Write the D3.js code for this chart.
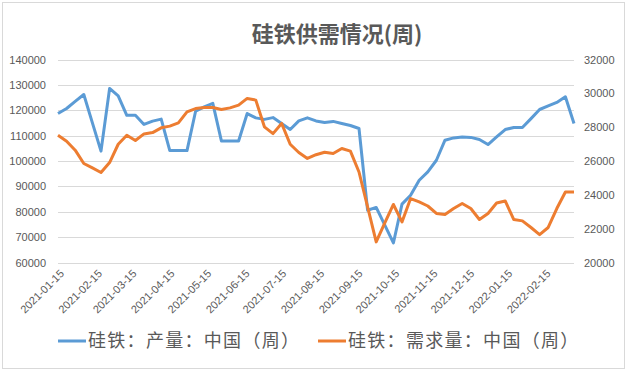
<!DOCTYPE html>
<html>
  <head>
    <meta charset="utf-8">
    <title>硅铁供需情况(周)</title>
    <style>
      body { margin: 0; background: #fff; }
      .grid line { stroke: #d9d9d9; stroke-width: 1; }
      .tick-label { fill: #595959; font-family: "Liberation Sans", Arial, sans-serif; font-size: 11px; }
      .title { fill: #595959; font-family: "Noto Sans CJK SC", sans-serif; font-size: 22px; font-weight: bold; }
      .legend-text { fill: #595959; font-family: "Noto Sans CJK SC", sans-serif; font-size: 18px; letter-spacing: 1.3px; }
    </style>
  </head>
  <body>
    <div class="container"></div>
    <script src="https://cdn.jsdelivr.net/npm/d3@7/dist/d3.min.js"></script>
    <script>
    var width = 627;
    var height = 371;

    // weekly dates
    var dates = [
      "2021-01-15","2021-01-22","2021-01-29","2021-02-05","2021-02-12","2021-02-19","2021-02-26",
      "2021-03-05","2021-03-12","2021-03-19","2021-03-26","2021-04-02","2021-04-09","2021-04-16",
      "2021-04-23","2021-04-30","2021-05-07","2021-05-14","2021-05-21","2021-05-28","2021-06-04",
      "2021-06-11","2021-06-18","2021-06-25","2021-07-02","2021-07-09","2021-07-16","2021-07-23",
      "2021-07-30","2021-08-06","2021-08-13","2021-08-20","2021-08-27","2021-09-03","2021-09-10",
      "2021-09-17","2021-09-24","2021-10-01","2021-10-08","2021-10-15","2021-10-22","2021-10-29",
      "2021-11-05","2021-11-12","2021-11-19","2021-11-26","2021-12-03","2021-12-10","2021-12-17",
      "2021-12-24","2021-12-31","2022-01-07","2022-01-14","2022-01-21","2022-01-28","2022-02-04",
      "2022-02-11","2022-02-18","2022-02-25","2022-03-04","2022-03-11"
    ];

    // 硅铁：产量（左轴）
    var production = [
      118700,120700,123500,126200,115000,103900,128600,125700,118000,118000,114400,115700,116500,
      104100,104100,104100,119600,121300,122700,107900,107900,107900,118700,117000,116400,117100,
      114800,112400,115800,117000,115800,115200,115600,114800,114000,112800,80600,81700,74700,
      67700,83000,86500,92400,95700,100300,108200,109100,109500,109300,108500,106500,109500,
      112400,113200,113200,116700,120300,121700,123100,125300,114800
    ];

    // 硅铁：需求量（右轴）
    var demand = [
      27520,27170,26640,25850,25590,25320,25910,26990,27520,27210,27600,27680,27960,28060,28250,
      28900,29100,29160,29160,29040,29140,29300,29700,29600,28020,27620,28220,26990,26500,26150,
      26370,26520,26440,26740,26580,25350,23290,21220,22340,23430,22400,23780,23580,23340,22900,
      22840,23190,23490,23190,22540,22900,23520,23640,22540,22460,22070,21650,22070,23190,24170,
      24170
    ];

    var xTickLabels = [
      "2021-01-15","2021-02-15","2021-03-15","2021-04-15","2021-05-15","2021-06-15","2021-07-15",
      "2021-08-15","2021-09-15","2021-10-15","2021-11-15","2021-12-15","2022-01-15","2022-02-15"
    ];
    var leftTicks = [60000,70000,80000,90000,100000,110000,120000,130000,140000];
    var rightTicks = [20000,22000,24000,26000,28000,30000,32000];
    var seriesNames = ["硅铁：产量：中国（周）", "硅铁：需求量：中国（周）"];
    var seriesColors = ["#5b9bd5", "#ed7d31"];

    var padding = { left: 58, right: 53, top: 59.5, bottom: 108.5 };

    var parse = d3.timeParse("%Y-%m-%d");

    var svg = d3.select(".container")
        .append("svg")
        .attr("width", width)
        .attr("height", height);

    // 外框
    svg.append("rect")
        .attr("x", 2.5).attr("y", 2.5)
        .attr("width", 622).attr("height", 366)
        .attr("fill", "#fff")
        .attr("stroke", "#d9d9d9");

    var x = d3.scaleTime()
        .domain([parse(dates[0]), parse(dates[dates.length - 1])])
        .range([padding.left, width - padding.right]);

    var yL = d3.scaleLinear()
        .domain([60000, 140000])
        .range([height - padding.bottom, padding.top]);

    var yR = d3.scaleLinear()
        .domain([20000, 32000])
        .range([height - padding.bottom, padding.top]);

    // 网格线
    svg.append("g").attr("class", "grid")
        .selectAll("line")
        .data(leftTicks)
        .enter()
        .append("line")
        .attr("x1", padding.left)
        .attr("x2", width - padding.right)
        .attr("y1", function(d) { return Math.round(yL(d)) + 0.5; })
        .attr("y2", function(d) { return Math.round(yL(d)) + 0.5; });

    // 左轴
    var leftAxis = svg.append("g")
        .attr("transform", "translate(" + (padding.left - 12) + ",0)")
        .call(d3.axisLeft(yL).tickValues(leftTicks).tickSize(0).tickPadding(0).tickFormat(d3.format("d")));
    leftAxis.select(".domain").remove();
    leftAxis.selectAll("text").attr("class", "tick-label").attr("font-family", null).attr("font-size", null);

    // 右轴
    var rightAxis = svg.append("g")
        .attr("transform", "translate(" + (width - padding.right + 10) + ",0)")
        .call(d3.axisRight(yR).tickValues(rightTicks).tickSize(0).tickPadding(0).tickFormat(d3.format("d")));
    rightAxis.select(".domain").remove();
    rightAxis.selectAll("text").attr("class", "tick-label").attr("font-family", null).attr("font-size", null);

    // x 轴标签（斜45度）
    svg.append("g")
        .selectAll("text")
        .data(xTickLabels)
        .enter()
        .append("text")
        .attr("class", "tick-label")
        .attr("text-anchor", "end")
        .attr("transform", function(d) {
          return "translate(" + (x(parse(d)) + 4) + "," + (height - padding.bottom + 9) + ") rotate(-45)";
        })
        .attr("dy", "0.35em")
        .text(function(d) { return d; });

    // 折线
    var lineL = d3.line()
        .x(function(d, i) { return x(parse(dates[i])); })
        .y(function(d) { return yL(d); });

    var lineR = d3.line()
        .x(function(d, i) { return x(parse(dates[i])); })
        .y(function(d) { return yR(d); });

    svg.append("path")
        .datum(production)
        .attr("d", lineL)
        .attr("fill", "none")
        .attr("stroke", seriesColors[0])
        .attr("stroke-width", 3)
        .attr("stroke-linejoin", "round");

    svg.append("path")
        .datum(demand)
        .attr("d", lineR)
        .attr("fill", "none")
        .attr("stroke", seriesColors[1])
        .attr("stroke-width", 3)
        .attr("stroke-linejoin", "round");

    // 标题
    svg.append("text")
        .attr("class", "title")
        .attr("x", 337)
        .attr("y", 42)
        .attr("text-anchor", "middle")
        .text("硅铁供需情况(周)");

    // 图例
    var legendX = [58, 318];
    var legend = svg.selectAll(".legend")
        .data(seriesNames)
        .enter()
        .append("g")
        .attr("class", "legend")
        .attr("transform", function(d, i) { return "translate(" + legendX[i] + ",341)"; });

    legend.append("line")
        .attr("x1", 0).attr("x2", 28)
        .attr("y1", 0).attr("y2", 0)
        .attr("stroke", function(d, i) { return seriesColors[i]; })
        .attr("stroke-width", 3);

    legend.append("text")
        .attr("class", "legend-text")
        .attr("x", 30)
        .attr("dy", "0.35em")
        .text(function(d) { return d; });
    </script>
  </body>
</html>
